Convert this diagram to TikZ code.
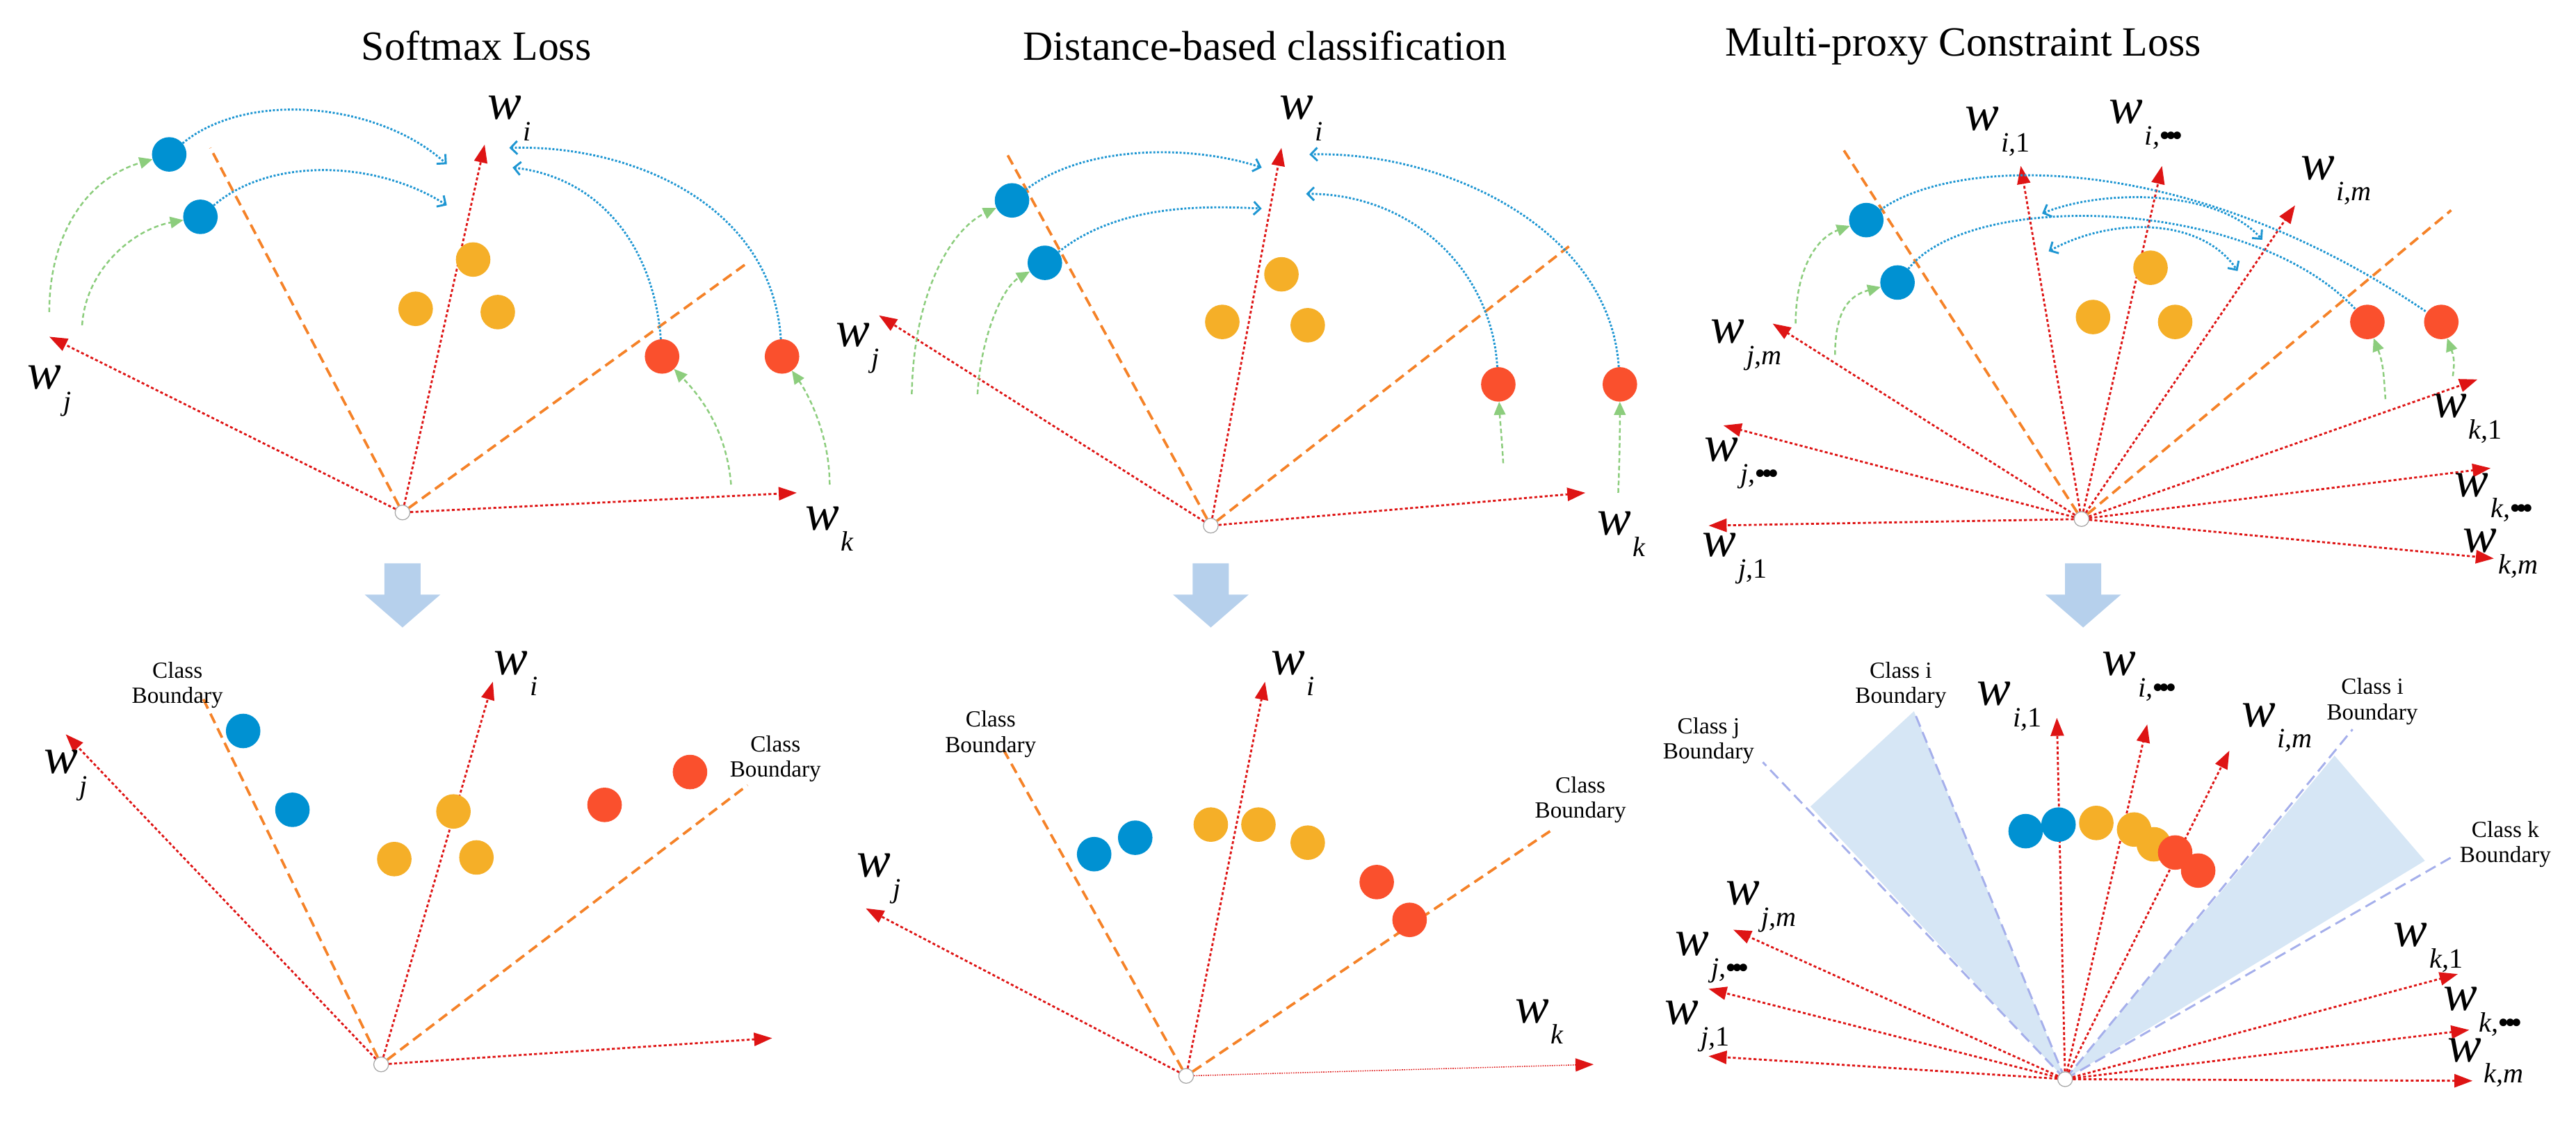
\documentclass[tikz,border=0pt]{standalone}
\usepackage{fontspec}
\setmainfont{Liberation Serif}
\usetikzlibrary{arrows.meta}
\definecolor{pred}{RGB}{222,20,20}
\definecolor{porange}{RGB}{245,130,40}
\definecolor{pblue}{RGB}{30,150,210}
\definecolor{pgreen}{RGB}{140,205,125}
\definecolor{dblue}{RGB}{0,145,210}
\definecolor{dyel}{RGB}{245,175,40}
\definecolor{dred}{RGB}{250,80,45}
\definecolor{lav}{RGB}{165,175,235}
\definecolor{wedge}{RGB}{214,230,245}
\definecolor{barrow}{RGB}{182,208,236}
\newcommand\wlab[1]{\textit{w}\kern0.04em\raisebox{-0.42em}{\scalebox{0.55}{\textit{#1}}}}
\newcommand\tdots{\textbf{\textbullet\kern-0.12em\textbullet\kern-0.12em\textbullet}}
\newcommand\one{\upshape 1}
\begin{document}
\begin{tikzpicture}[x=1mm,y=-1mm,
 vec/.style={draw=pred,line width=3.4pt,dash pattern=on 5pt off 4pt,-{Triangle[length=11mm,width=8mm,fill=pred]}},
 bnd/.style={draw=porange,line width=4.5pt,dash pattern=on 18pt off 10pt},
 arc/.style={draw=pblue,line width=3.5pt,dash pattern=on 3.5pt off 3pt,-{Straight Barb[length=4mm,width=8mm]}},
 arcb/.style={arc,{Straight Barb[length=4mm,width=8mm]}-{Straight Barb[length=4mm,width=8mm]}},
 grn/.style={draw=pgreen,line width=3pt,dash pattern=on 8pt off 5pt,-{Triangle[length=8mm,width=7mm,fill=pgreen]}},
 dot/.style={circle,minimum size=21mm,inner sep=0pt},
 db/.style={dot,fill=dblue},dy/.style={dot,fill=dyel},dr/.style={dot,fill=dred},
 orig/.style={circle,draw=gray!70,fill=white,minimum size=9mm,line width=1.5pt,inner sep=0pt},
 lab/.style={font=\fontsize{88}{88}\selectfont,inner sep=0pt},
 ttl/.style={font=\fontsize{72}{80}\selectfont,inner sep=0pt},
 cb/.style={font=\fontsize{40}{44}\selectfont,align=center,inner sep=0pt},
 lav/.style={draw=lav,line width=3.5pt,dash pattern=on 20pt off 10pt},
 down/.style={fill=barrow}]
\useasboundingbox (0,0) rectangle (1568,683);
% titles
\node[ttl] (T1) at (290,28) {Softmax Loss};
\node[ttl] (T2) at (770,28) {Distance-based classification};
\node[ttl] (T3) at (1195,28) {Multi-proxy Constraint Loss};
% down arrows
\foreach \x in {245,737,1268}{
 \fill[down] (\x-11,343) -- (\x+11,343) -- (\x+11,362) -- (\x+23,362) -- (\x,382) -- (\x-23,362) -- (\x-11,362) -- cycle;}
%================ Panel 1 top
\coordinate (a1o1) at (128,90); \coordinate (a1o2) at (455,160);
\node[orig] (O1) at (245,312) {};
\draw[bnd] (O1) -- (a1o1); \draw[bnd] (O1) -- (a1o2);
\coordinate (a1i) at (295,88); \coordinate (a1j) at (30,205); \coordinate (a1k) at (485,300);
\draw[vec] (O1) -- (a1i); \draw[vec] (O1) -- (a1j); \draw[vec] (O1) -- (a1k);
\node[lab] (L1i) at (310,72) {\wlab{i}};
\node[lab] (L1j) at (30,238) {\wlab{j}};
\node[lab] (L1k) at (505,322) {\wlab{k}};
\node[db] (B11) at (103,94) {}; \node[db] (B12) at (122,132) {};
\node[dy] (Y11) at (288,158) {}; \node[dy] (Y12) at (253,188) {}; \node[dy] (Y13) at (303,190) {};
\node[dr] (R11) at (403,217) {}; \node[dr] (R12) at (476,217) {};
\coordinate (e11) at (272,100); \coordinate (e12) at (272,125);
\coordinate (e13) at (312,102); \coordinate (e14) at (310,90);
\draw[arc] (B11) .. controls (150,55) and (230,62) .. (e11);
\draw[arc] (B12) .. controls (165,95) and (230,98) .. (e12);
\draw[arc] (R11) .. controls (398,150) and (365,108) .. (e13);
\draw[arc] (R12) .. controls (470,125) and (385,88) .. (e14);
\coordinate (g11) at (30,190); \coordinate (g12) at (50,198); \coordinate (g13) at (445,295); \coordinate (g14) at (505,295);
\draw[grn] (g11) .. controls (30,140) and (55,108) .. (B11);
\draw[grn] (g12) .. controls (52,165) and (80,140) .. (B12);
\draw[grn] (g13) .. controls (442,260) and (425,240) .. (R11);
\draw[grn] (g14) .. controls (505,265) and (492,240) .. (R12);
%================ Panel 1 bottom
\node[orig] (P1) at (232,648) {};
\coordinate (b1o1) at (122,422); \coordinate (b1o2) at (455,478);
\draw[bnd] (P1) -- (b1o1); \draw[bnd] (P1) -- (b1o2);
\coordinate (b1i) at (300,415); \coordinate (b1j) at (40,447); \coordinate (b1k) at (470,632);
\draw[vec] (P1) -- (b1i); \draw[vec] (P1) -- (b1j); \draw[vec] (P1) -- (b1k);
\node[lab] (M1i) at (314,410) {\wlab{i}};
\node[lab] (M1j) at (40,472) {\wlab{j}};
\node[cb] (C11) at (108,417) {Class\\Boundary};
\node[cb] (C12) at (472,462) {Class\\Boundary};
\node[db] (B13) at (148,445) {}; \node[db] (B14) at (178,493) {};
\node[dy] (Y14) at (276,494) {}; \node[dy] (Y15) at (240,523) {}; \node[dy] (Y16) at (290,522) {};
\node[dr] (R13) at (368,490) {}; \node[dr] (R14) at (420,470) {};
%================ Panel 2 top
\node[orig] (O2) at (737,320) {};
\coordinate (a2o1) at (612,92); \coordinate (a2o2) at (955,150);
\draw[bnd] (O2) -- (a2o1); \draw[bnd] (O2) -- (a2o2);
\coordinate (a2i) at (780,90); \coordinate (a2j) at (535,192); \coordinate (a2k) at (965,300);
\draw[vec] (O2) -- (a2i); \draw[vec] (O2) -- (a2j); \draw[vec] (O2) -- (a2k);
\node[lab] (L2i) at (792,72) {\wlab{i}};
\node[lab] (L2j) at (522,212) {\wlab{j}};
\node[lab] (L2k) at (987,325) {\wlab{k}};
\node[db] (B21) at (616,122) {}; \node[db] (B22) at (636,160) {};
\node[dy] (Y21) at (780,167) {}; \node[dy] (Y22) at (744,196) {}; \node[dy] (Y23) at (796,198) {};
\node[dr] (R21) at (912,234) {}; \node[dr] (R22) at (986,234) {};
\coordinate (e21) at (768,102); \coordinate (e22) at (768,127);
\coordinate (e23) at (795,118); \coordinate (e24) at (797,94);
\draw[arc] (B21) .. controls (660,88) and (725,88) .. (e21);
\draw[arc] (B22) .. controls (680,125) and (730,125) .. (e22);
\draw[arc] (R21) .. controls (908,165) and (860,118) .. (e23);
\draw[arc] (R22) .. controls (980,140) and (880,92) .. (e24);
\coordinate (g21) at (555,240); \coordinate (g22) at (595,240); \coordinate (g23) at (915,282); \coordinate (g24) at (985,300);
\draw[grn] (g21) .. controls (556,180) and (578,140) .. (B21);
\draw[grn] (g22) .. controls (597,205) and (610,175) .. (B22);
\draw[grn] (g23) .. controls (914,265) and (913,255) .. (R21);
\draw[grn] (g24) .. controls (986,275) and (986,260) .. (R22);
%================ Panel 2 bottom
\node[orig] (P2) at (722,655) {};
\coordinate (b2o1) at (610,455); \coordinate (b2o2) at (945,505);
\draw[bnd] (P2) -- (b2o1); \draw[bnd] (P2) -- (b2o2);
\coordinate (b2i) at (770,415); \coordinate (b2j) at (527,553); \coordinate (b2k) at (970,648);
\draw[vec] (P2) -- (b2i); \draw[vec] (P2) -- (b2j);
\draw[vec,line width=1.8pt,dash pattern=on 2pt off 2pt] (P2) -- (b2k);
\node[lab] (M2i) at (787,410) {\wlab{i}};
\node[lab] (M2j) at (535,535) {\wlab{j}};
\node[lab] (M2k) at (937,622) {\wlab{k}};
\node[cb] (C21) at (603,447) {Class\\Boundary};
\node[cb] (C22) at (962,487) {Class\\Boundary};
\node[db] (B23) at (666,520) {}; \node[db] (B24) at (691,510) {};
\node[dy] (Y24) at (737,502) {}; \node[dy] (Y25) at (766,502) {}; \node[dy] (Y26) at (796,513) {};
\node[dr] (R23) at (838,537) {}; \node[dr] (R24) at (858,560) {};
%================ Panel 3 top
\node[orig] (O3) at (1267,316) {};
\coordinate (a3o1) at (1122,91); \coordinate (a3o2) at (1492,128);
\draw[bnd] (O3) -- (a3o1); \draw[bnd] (O3) -- (a3o2);
\coordinate (a3i1) at (1230,101); \coordinate (a3i2) at (1316,101); \coordinate (a3im) at (1397,125);
\coordinate (a3jm) at (1079,197); \coordinate (a3j2) at (1049,259); \coordinate (a3j1) at (1040,320);
\coordinate (a3k1) at (1508,231); \coordinate (a3k2) at (1516,285); \coordinate (a3km) at (1518,340);
\foreach \t in {a3i1,a3i2,a3im,a3jm,a3j2,a3j1,a3k1,a3k2,a3km}{\draw[vec] (O3) -- (\t);}
\node[lab] (L3i1) at (1216,80) {\wlab{i,\one}};
\node[lab] (L3i2) at (1306,76) {\wlab{i,\tdots}};
\node[lab] (L3im) at (1422,110) {\wlab{i,m}};
\node[lab] (L3jm) at (1063,210) {\wlab{j,m}};
\node[lab] (L3j2) at (1060,282) {\wlab{j,\tdots}};
\node[lab] (L3j1) at (1056,340) {\wlab{j,\one}};
\node[lab] (L3k1) at (1502,255) {\wlab{k,\one}};
\node[lab] (L3k2) at (1518,303) {\wlab{k,\tdots}};
\node[lab] (L3km) at (1522,337) {\wlab{k,m}};
\node[db] (B31) at (1136,134) {}; \node[db] (B32) at (1155,172) {};
\node[dy] (Y31) at (1309,163) {}; \node[dy] (Y32) at (1274,193) {}; \node[dy] (Y33) at (1324,196) {};
\node[dr] (R31) at (1441,196) {}; \node[dr] (R32) at (1486,196) {};
\draw[arc,-] (B31) .. controls (1190,95) and (1330,90) .. (R32);
\draw[arc,-] (B32) .. controls (1200,115) and (1370,120) .. (R31);
\coordinate (e31) at (1243,130); \coordinate (e32) at (1377,146);
\coordinate (e33) at (1247,153); \coordinate (e34) at (1362,165);
\draw[arcb] (e31) .. controls (1280,115) and (1350,115) .. (e32);
\draw[arcb] (e33) .. controls (1285,132) and (1340,132) .. (e34);
\coordinate (g31) at (1093,197); \coordinate (g32) at (1117,216); \coordinate (g33) at (1452,243); \coordinate (g34) at (1493,229);
\draw[grn] (g31) .. controls (1093,165) and (1105,145) .. (B31);
\draw[grn] (g32) .. controls (1117,190) and (1125,180) .. (B32);
\draw[grn] (g33) .. controls (1451,230) and (1451,222) .. (R31);
\draw[grn] (g34) .. controls (1494,222) and (1494,218) .. (R32);
%================ Panel 3 bottom
\coordinate (P3c) at (1257,657);
\coordinate (w1) at (1102,491); \coordinate (w2) at (1165,433);
\coordinate (w3) at (1421,460); \coordinate (w4) at (1476,524);
\fill[wedge] (P3c) -- (w1) -- (w2) -- cycle;
\fill[wedge] (P3c) -- (w3) -- (w4) -- cycle;
\coordinate (l1) at (1073,464); \coordinate (l3) at (1432,444); \coordinate (l4) at (1492,522);
\draw[lav] (P3c) -- (l1); \draw[lav] (P3c) -- (w2);
\draw[lav] (P3c) -- (l3); \draw[lav] (P3c) -- (l4);
\node[orig] (P3) at (P3c) {};
\coordinate (b3i1) at (1252,437); \coordinate (b3i2) at (1307,441); \coordinate (b3im) at (1357,457);
\coordinate (b3jm) at (1055,566); \coordinate (b3j2) at (1040,602); \coordinate (b3j1) at (1040,643);
\coordinate (b3k1) at (1496,593); \coordinate (b3k2) at (1503,627); \coordinate (b3km) at (1505,658);
\foreach \t in {b3i1,b3i2,b3im,b3jm,b3j2,b3j1,b3k1,b3k2,b3km}{\draw[vec] (P3) -- (\t);}
\node[lab] (M3i1) at (1223,430) {\wlab{i,\one}};
\node[lab] (M3i2) at (1302,412) {\wlab{i,\tdots}};
\node[lab] (M3im) at (1386,443) {\wlab{i,m}};
\node[lab] (M3jm) at (1072,552) {\wlab{j,m}};
\node[lab] (M3j2) at (1042,583) {\wlab{j,\tdots}};
\node[lab] (M3j1) at (1033,625) {\wlab{j,\one}};
\node[lab] (M3k1) at (1478,577) {\wlab{k,\one}};
\node[lab] (M3k2) at (1511,616) {\wlab{k,\tdots}};
\node[lab] (M3km) at (1513,647) {\wlab{k,m}};
\node[cb] (C31) at (1157,417) {Class i\\Boundary};
\node[cb] (C32) at (1040,451) {Class j\\Boundary};
\node[cb] (C33) at (1444,427) {Class i\\Boundary};
\node[cb] (C34) at (1525,514) {Class k\\Boundary};
\node[db] (B33) at (1233,506) {}; \node[db] (B34) at (1253,502) {};
\node[dy] (Y34) at (1276,501) {}; \node[dy] (Y35) at (1299,505) {}; \node[dy] (Y36) at (1311,514) {};
\node[dr] (R33) at (1324,519) {}; \node[dr] (R34) at (1338,530) {};
\end{tikzpicture}
\end{document}
